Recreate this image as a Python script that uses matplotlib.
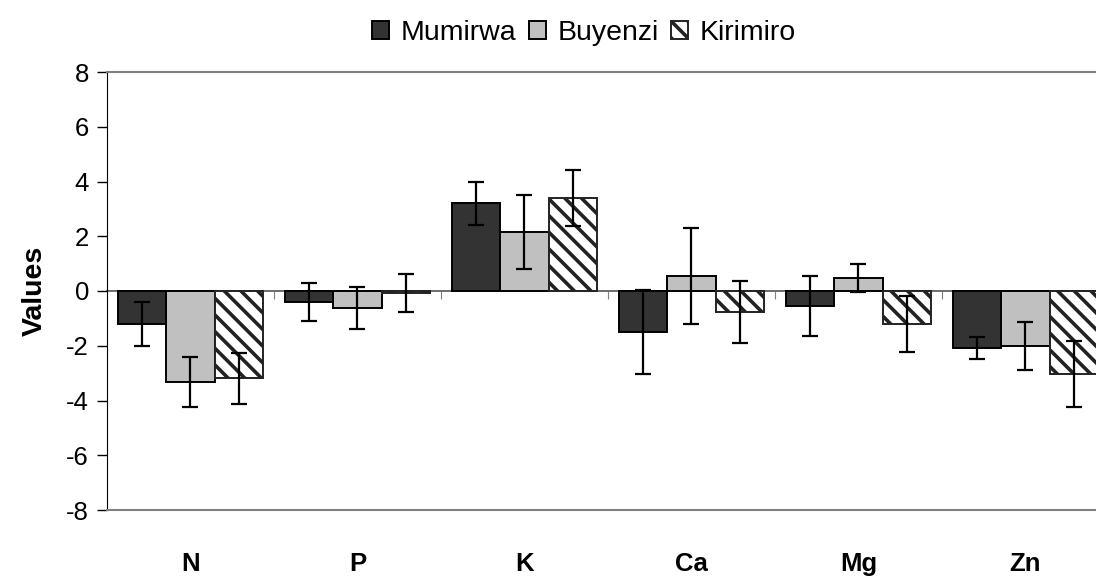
import numpy as np
import matplotlib.pyplot as plt

plt.rcParams['font.family'] = ['Liberation Sans', 'DejaVu Sans']
plt.rcParams['hatch.linewidth'] = 2.6
plt.rcParams['axes.unicode_minus'] = False

# data
nutrients = ['N', 'P', 'K', 'Ca', 'Mg', 'Zn']
mumirwa = [-1.2, -0.4, 3.2, -1.5, -0.55, -2.08]
mumirwa_err = [0.8, 0.7, 0.78, 1.53, 1.1, 0.4]
buyenzi = [-3.32, -0.62, 2.15, 0.55, 0.47, -2.0]
buyenzi_err = [0.9, 0.76, 1.35, 1.75, 0.5, 0.87]
kirimiro = [-3.18, -0.07, 3.39, -0.77, -1.2, -3.03]
kirimiro_err = [0.93, 0.7, 1.03, 1.12, 1.02, 1.2]

fig = plt.figure(figsize=(10.96, 5.76), dpi=100)
ax = fig.add_axes([107/1096, 66/576, 1002/1096, 438/576])

x = np.arange(len(nutrients))
w = 0.29
err_kw = dict(ecolor='black', elinewidth=1.6, capsize=5.5, capthick=1.6)

ax.bar(x - w, mumirwa, w, color='#333333', edgecolor='black', linewidth=1.4,
       yerr=mumirwa_err, error_kw=err_kw, label='Mumirwa', zorder=3)
ax.bar(x, buyenzi, w, color='#c0c0c0', edgecolor='black', linewidth=1.4,
       yerr=buyenzi_err, error_kw=err_kw, label='Buyenzi', zorder=3)
ax.bar(x + w, kirimiro, w, color='white', edgecolor='#222222', hatch='\\\\',
       linewidth=1.4, yerr=kirimiro_err, error_kw=err_kw, label='Kirimiro', zorder=3)

ax.set_xlim(-0.5, 5.5)
ax.set_ylim(-8, 8)
ax.set_yticks(np.arange(-8, 9, 2))
ax.tick_params(axis='y', direction='out', length=7, width=1, pad=6, labelsize=18.5)
ax.set_xticks(x)
ax.set_xticklabels(nutrients, fontsize=18.5, fontweight='bold')
ax.tick_params(axis='x', length=0, pad=30)
ax.set_ylabel('Values', fontsize=20.5, fontweight='bold', labelpad=13)

ax.spines['right'].set_visible(False)
ax.spines['left'].set_color('black')
for s in ['top', 'bottom']:
    ax.spines[s].set_color('#808080')
    ax.spines[s].set_linewidth(1.5)

# category axis crossing at zero
sec = ax.secondary_xaxis(0, transform=ax.transData)
sec.set_xticks(x[:-1] + 0.5)
sec.tick_params(direction='out', length=6, color='#808080', labelbottom=False)
sec.spines['bottom'].set_color('#555555')
sec.spines['bottom'].set_linewidth(1.2)

fig.legend(loc='center', bbox_to_anchor=(584/1096, 1 - 33/576), ncol=3,
           frameon=False, fontsize=20.5, handlelength=0.6, handleheight=0.6,
           handletextpad=0.4, columnspacing=0.45)

fig.savefig('out.png', dpi=100)
